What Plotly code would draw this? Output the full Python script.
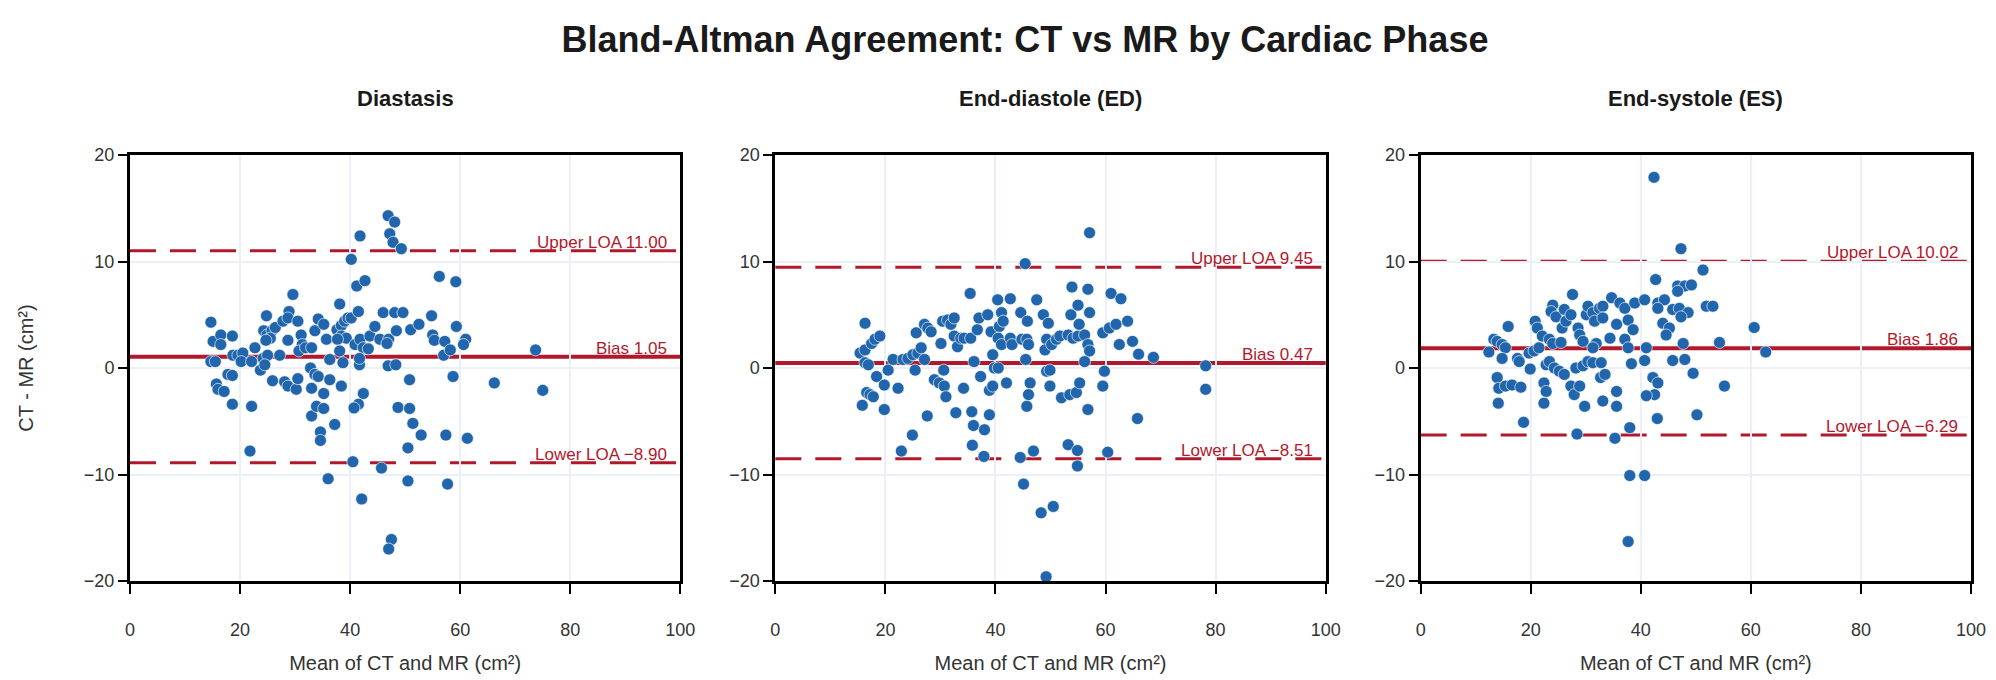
import plotly.graph_objects as go
from plotly.subplots import make_subplots

# --- data: (mean, difference) per cardiac phase ---
phases = ["Diastasis", "End-diastole (ED)", "End-systole (ES)"]

dia_mean = [14.7, 15.1, 16.5, 16.5, 18.6, 14.7, 15.5, 17.8, 18.6, 15.7, 16.0, 17.1, 18.6, 22.1, 21.8,
            18.7, 19.6, 20.5, 20.2, 22.1, 22.7, 23.7, 24.2, 25.0, 24.5, 24.8, 24.3, 24.9, 25.8, 25.5,
            26.4, 24.7, 27.2, 25.9, 28.1, 28.7, 30.2, 30.5, 28.7, 27.8, 28.9, 28.7, 29.6, 30.5, 31.1,
            31.3, 30.7, 31.9, 33.0, 33.0, 32.8, 33.6, 33.6, 34.2, 33.9, 34.6, 34.6, 35.2, 35.7, 36.3,
            34.2, 36.3, 35.2, 35.2, 37.2, 38.1, 37.6, 38.4, 39.0, 39.6, 40.2, 38.4, 39.3, 37.7, 38.1,
            38.7, 38.4, 41.5, 40.2, 41.8, 41.2, 42.7, 40.9, 41.8, 42.4, 43.3, 43.6, 44.5, 45.4, 41.7,
            41.7, 42.4, 41.5, 40.5, 45.7, 46.0, 48.1, 49.6, 46.9, 48.1, 47.2, 47.8, 49.3, 47.0, 46.7,
            48.4, 46.9, 48.3, 50.8, 48.7, 50.8, 51.4, 52.9, 50.5, 51.0, 52.5, 54.8, 55.0, 55.3, 56.2,
            57.2, 57.0, 58.2, 58.7, 57.4, 59.2, 59.3, 61.0, 60.6, 61.3, 66.2, 73.7, 75.0, 40.7, 42.1,
            47.5, 47.0, 36.0, 50.5, 57.7, 33.0]
dia_diff = [4.3, 2.5, 3.1, 2.2, 3.0, 0.6, 0.6, -0.6, -0.7, -1.5, -2.0, -2.2, -3.4, -3.6, -7.8,
            1.2, 1.2, 1.4, 0.6, 0.6, 1.9, -0.2, 0.9, 1.2, 0.3, 4.9, 3.5, 3.1, 3.5, 2.8,
            3.8, 2.6, 1.2, -1.2, -1.3, -1.7, -2.0, -1.0, 2.6, 4.4, 5.3, 4.7, 6.9, 4.4, 3.1,
            2.2, 1.6, 1.9, -1.9, -4.5, 0.0, -0.6, 3.5, 4.6, -3.6, -6.0, -6.8, 4.1, 2.7, 0.8,
            -0.8, -1.1, -2.4, -3.8, -5.3, 6.0, 3.6, 4.0, 4.4, 4.7, 4.7, 3.0, 2.8, 2.7, 1.6,
            0.5, -1.7, 5.3, 10.2, 12.4, 7.7, 8.2, 2.2, 2.7, 1.9, 1.8, 3.0, 3.9, 2.7, 0.3,
            0.9, -2.4, -3.4, -8.8, -9.4, 5.2, 5.2, 5.2, 14.3, 13.7, 12.6, 11.8, 11.2, 2.7, 2.3,
            3.5, 0.2, 0.3, -1.1, -3.7, -3.8, -5.2, -6.3, -7.5, 3.6, 4.1, 4.9, 3.1, 2.6, 8.6,
            2.5, 1.2, 1.7, -0.8, -6.3, 8.1, 3.9, 2.7, 2.2, -6.6, -1.4, 1.7, -2.1, -3.75, -12.3,
            -16.1, -17.0, -10.4, -10.6, -10.9, 1.9]

ed_mean = [16.3, 15.4, 16.3, 17.5, 18.1, 19.0, 16.3, 16.9, 18.4, 19.8, 16.6, 17.2, 17.8, 15.8, 19.8,
           20.5, 21.4, 22.3, 22.9, 24.9, 27.6, 23.2, 24.1, 25.0, 25.9, 26.5, 25.6, 27.1, 27.7, 28.3,
           25.4, 27.1, 28.9, 29.8, 30.7, 31.0, 30.6, 30.1, 30.4, 31.3, 31.9, 32.5, 32.5, 33.1, 33.7,
           34.3, 32.8, 34.2, 35.4, 35.5, 36.7, 37.0, 38.6, 36.1, 37.3, 35.7, 36.0, 35.8, 38.0, 37.9,
           38.9, 38.9, 39.5, 39.5, 39.8, 39.2, 40.4, 40.7, 57.1, 45.4, 41.1, 41.4, 42.7, 40.5, 41.1,
           42.7, 43.0, 44.8, 45.7, 46.0, 44.6, 45.8, 47.5, 48.7, 49.6, 45.5, 49.3, 49.0, 50.2, 51.1,
           51.7, 53.2, 54.1, 55.0, 56.2, 56.8, 57.1, 56.2, 53.9, 56.8, 53.7, 55.0, 55.2, 57.1, 61.0,
           62.8, 59.5, 60.7, 61.9, 64.0, 62.5, 64.9, 66.0, 68.7, 78.2, 78.2, 40.5, 42.0, 49.3, 49.9,
           46.3, 46.0, 45.7, 49.9, 52.0, 53.5, 54.7, 55.3, 56.8, 59.8, 59.5, 65.8, 44.5, 46.9, 53.2,
           54.9, 54.9, 60.4, 45.1, 48.3, 50.5, 49.2]
ed_diff = [4.2, 1.4, 1.7, 2.3, 2.7, 3.0, 0.5, 0.3, -0.8, -1.6, -2.3, -2.5, -2.7, -3.5, -3.9,
           -0.2, 0.8, -1.9, -7.8, -6.3, -4.5, 0.8, 0.9, 1.25, 1.4, 1.9, 3.3, 4.1, 3.75, 3.4,
           -0.2, 0.8, -1.1, -1.4, -1.7, -2.7, -0.2, 2.3, 4.4, 4.5, 4.1, 4.7, 3.0, 2.0, 2.8,
           2.8, -4.2, -1.9, 7.0, 2.8, 3.6, 4.7, 5.0, 0.6, -0.8, -4.1, -5.4, -7.25, -5.8, -8.3,
           -4.4, -2.1, -1.7, 1.25, 0.0, 3.4, 6.4, 3.9, 12.7, 9.8, 5.2, 4.4, 6.5, 2.8, 2.2,
           2.8, 2.2, 2.7, 2.7, 2.2, 5.2, 4.4, 6.4, 5.0, 4.2, 0.8, 2.7, 1.7, 2.2, 2.7,
           3.0, 3.1, 2.8, 3.0, 3.1, 2.2, 1.6, 0.6, 7.6, 7.4, 5.0, 5.9, 4.1, 5.2, 7.0,
           6.5, 3.3, 3.75, 4.1, 4.4, 2.2, 2.5, 1.3, 1.0, 0.2, -2.0, 0.0, -1.4, -0.3, -0.2,
           -1.4, -2.5, -3.6, -1.7, -2.8, -2.5, -2.3, -1.4, -3.9, -0.3, -1.7, -4.75, -8.4, -7.8, -7.2,
           -7.75, -9.2, -7.9, -10.9, -13.6, -13.0, -19.6]

es_mean = [15.9, 13.3, 13.9, 14.8, 15.4, 12.4, 14.8, 17.6, 17.9, 13.9, 14.2, 15.4, 16.6, 18.2, 14.1,
           18.7, 19.9, 19.7, 20.6, 21.5, 20.8, 21.2, 22.1, 23.4, 24.0, 22.8, 23.4, 24.3, 25.2, 26.1,
           22.4, 22.8, 22.4, 24.0, 23.7, 24.6, 26.1, 25.7, 26.4, 27.3, 27.6, 25.5, 27.3, 27.9, 28.9,
           29.8, 28.4, 28.2, 29.5, 30.4, 31.3, 28.6, 28.9, 29.5, 30.1, 30.4, 31.3, 31.6, 32.5, 33.1,
           33.1, 31.9, 31.3, 32.7, 33.1, 32.8, 33.5, 34.7, 35.3, 35.6, 35.6, 35.6, 42.4, 47.3, 51.3,
           42.7, 46.7, 48.0, 49.2, 46.7, 36.2, 37.1, 38.9, 40.7, 43.1, 44.3, 43.1, 45.8, 47.0, 48.6,
           47.3, 51.9, 53.1, 37.7, 38.6, 44.0, 45.2, 44.6, 60.6, 34.4, 37.1, 37.7, 41.0, 47.7, 54.3,
           62.7, 38.3, 40.7, 45.8, 48.0, 49.5, 42.2, 43.1, 42.5, 41.0, 55.2, 43.0, 50.2, 38.0, 38.0,
           40.7, 37.7]
es_diff = [3.9, 2.7, 2.5, 2.2, 1.9, 1.5, 0.9, 0.9, 0.6, -0.9, -1.9, -1.7, -1.6, -1.8, -3.3,
           -5.1, -0.1, 1.4, 1.6, 1.9, 4.4, 3.75, 3.0, 2.7, 2.3, 0.3, 0.6, 0.0, -0.3, -0.6,
           -1.4, -2.2, -3.3, 5.9, 5.3, 4.8, 5.5, 3.75, 4.4, 5.0, 6.9, 2.4, -1.7, -2.5, -1.7,
           -3.6, -6.2, 0.0, 0.2, 0.6, 0.5, 3.75, 3.1, 2.5, 5.0, 5.8, 5.2, 4.4, 5.6, 5.8,
           4.7, 2.3, 1.9, -0.9, -3.1, 0.5, -0.6, 6.6, -6.6, 4.1, -3.6, -2.2, 17.9, 11.2, 9.2,
           8.3, 7.7, 7.7, 7.8, 7.2, 6.1, 5.6, 6.1, 6.4, 6.1, 6.4, 5.6, 5.5, 5.6, 5.2,
           4.8, 5.8, 5.8, 4.5, 3.6, 4.2, 3.75, 3.1, 3.8, 2.8, 2.7, 1.9, 1.9, 2.3, 2.4,
           1.5, 0.4, 0.7, 0.7, 0.8, -0.5, -0.9, -1.4, -2.5, -2.6, -1.7, -4.75, -4.4, -5.6, -10.1,
           -10.1, -16.3]

bias = [1.05, 0.47, 1.86]
upper_loa = [11.00, 9.45, 10.02]
lower_loa = [-8.90, -8.51, -6.29]

means = [dia_mean, ed_mean, es_mean]
diffs = [dia_diff, ed_diff, es_diff]

RED = "#B2182B"
BLUE = "#2166AC"
FONT = "Arial"

fig = make_subplots(rows=1, cols=3, horizontal_spacing=0.0516)

for i in range(3):
    col = i + 1
    fig.add_trace(go.Scatter(
        x=means[i], y=diffs[i], mode="markers",
        marker=dict(color=BLUE, size=12, line=dict(color="rgba(255,255,255,0.8)", width=0.8)),
        showlegend=False,
    ), row=1, col=col)

    # reference lines
    fig.add_hline(y=0, line=dict(color="#8c8c8c", width=1.5, dash="8px,6px"),
                  layer="below", row=1, col=col)
    fig.add_hline(y=bias[i], line=dict(color=RED, width=4), layer="below", row=1, col=col)
    for v in (upper_loa[i], lower_loa[i]):
        fig.add_hline(y=v, line=dict(color=RED, width=3, dash="26px,14px"),
                      layer="below", row=1, col=col)

    xr = "x" if i == 0 else f"x{col}"
    yr = "y" if i == 0 else f"y{col}"
    labels = [
        (upper_loa[i], f"Upper LOA {upper_loa[i]:.2f}"),
        (bias[i], f"Bias {bias[i]:.2f}"),
        (lower_loa[i], f"Lower LOA {lower_loa[i]:.2f}".replace("-", "\u2212")),
    ]
    for yv, txt in labels:
        fig.add_annotation(x=98, y=yv, xref=xr, yref=yr, text=txt, showarrow=False,
                           xanchor="right", yanchor="bottom", yshift=-3,
                           font=dict(family=FONT, size=17, color=RED))

    # panel title
    dom = fig.layout[f"xaxis{'' if i == 0 else col}"].domain
    fig.add_annotation(x=(dom[0] + dom[1]) / 2, y=1, xref="paper", yref="paper",
                       text=f"<b>{phases[i]}</b>", showarrow=False,
                       xanchor="center", yanchor="middle", yshift=57,
                       font=dict(family=FONT, size=22, color="#1a1a1a"))

fig.update_xaxes(
    range=[0, 100], dtick=20, showgrid=True, gridcolor="#EBF0F8", gridwidth=1.5,
    zeroline=False, showline=True, linecolor="black", linewidth=3, mirror=True,
    ticks="outside", ticklen=10, tickwidth=1.5, tickcolor="black",
    ticklabelstandoff=20, automargin=False,
    tickfont=dict(family=FONT, size=18, color="#333333"),
    title=dict(text="Mean of CT and MR (cm²)", standoff=18,
               font=dict(family=FONT, size=20, color="#333333")),
)
fig.update_yaxes(
    range=[-20, 20], dtick=10, showgrid=True, gridcolor="#EBF0F8", gridwidth=1.5,
    zeroline=False, showline=True, linecolor="black", linewidth=3, mirror=True,
    ticks="outside", ticklen=9, tickwidth=1.5, tickcolor="black", automargin=False,
    tickfont=dict(family=FONT, size=18, color="#333333"),
)
fig.update_yaxes(title=dict(text="CT - MR (cm²)", standoff=45,
                            font=dict(family=FONT, size=20, color="#333333")),
                 row=1, col=1)

fig.update_layout(
    template="plotly_white",
    width=1996, height=680,
    margin=dict(l=122, r=33, t=147, b=107),
    title=dict(text="<b>Bland-Altman Agreement: CT vs MR by Cardiac Phase</b>",
               x=1017 / 1996, xanchor="center", y=1 - 31 / 680, yanchor="middle",
               font=dict(family=FONT, size=36, color="#1a1a1a")),
    plot_bgcolor="white", paper_bgcolor="white",
)

fig.write_html("out.html")
